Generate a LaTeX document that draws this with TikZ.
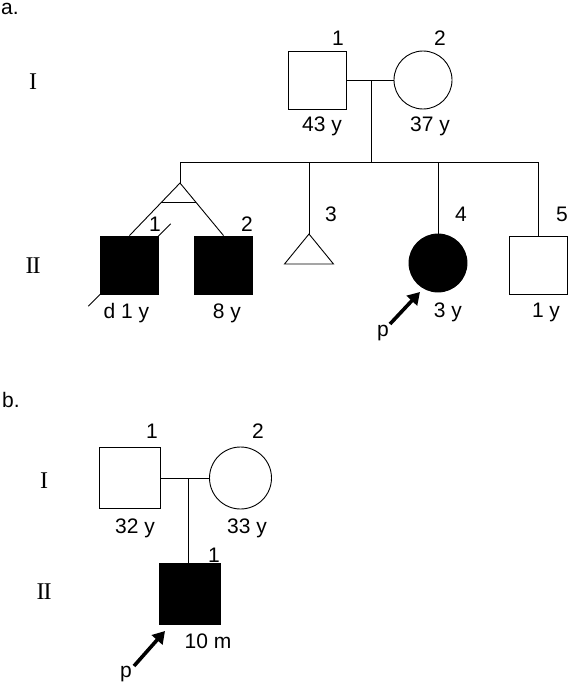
\documentclass[tikz,border=0pt]{standalone}
\usepackage{fontspec}
\setmainfont{Liberation Sans}
\newfontfamily\romanfont{Liberation Serif}
\usetikzlibrary{arrows.meta,calc}
\tikzset{
  pedline/.style={line width=0.9pt, black},
  male/.style={draw, line width=0.9pt, rectangle, minimum size=58pt, inner sep=0pt},
  female/.style={draw, line width=0.9pt, circle, minimum size=58pt, inner sep=0pt},
  affected/.style={fill=black},
  lbl/.style={font=\fontsize{21}{25}\selectfont, anchor=base, inner sep=0pt},
  gen/.style={font=\romanfont\fontsize{24}{28}\selectfont, anchor=base, inner sep=0pt},
  proband/.style={line width=3.6pt, -{Triangle[length=12pt,width=14pt]}},
}

\begin{document}
\begin{tikzpicture}[x=1pt, y=-1pt]
  \useasboundingbox (0,0) rectangle (569,685);

  % ---------------- a. ----------------
  \node[lbl, anchor=base west] (panelA) at (1,15) {a.};
  \node[gen] (genAI) at (33,89) {I};
  \node[gen] (genAII) at (33,273) {I\kern-1pt I};

  % Generation I
  \node[male] (fatherA) at (317.5,80) {};
  \node[female] (motherA) at (423,80) {};
  \node[lbl] at (338,46) {1};
  \node[lbl] at (440,46) {2};
  \node[lbl] at (322,131) {43 y};
  \node[lbl] at (430,131) {37 y};

  % Generation II
  \node[male, affected] (twinOne) at (129.5,265) {};
  \node[male, affected] (twinTwo) at (223.5,265) {};
  \coordinate (miscA) at (309,234);
  \node[female, affected] (daughterA) at (438,263) {};
  \node[male] (sonA) at (538,265) {};

  \node[lbl] at (155,231) {1};
  \node[lbl] at (247,231) {2};
  \node[lbl] at (331,221) {3};
  \node[lbl] at (461,221) {4};
  \node[lbl] at (562,221) {5};
  \node[lbl] at (126.5,318) {d 1 y};
  \node[lbl] at (227,318) {8 y};
  \node[lbl] at (448,317) {3 y};
  \node[lbl] at (546,317) {1 y};

  % Linien
  \coordinate (mateA) at (371,80);
  \coordinate (sibA) at (371,162);
  \coordinate (twinTop) at (180,162);
  \coordinate (twinApex) at (180,183);
  \coordinate (sonTop) at (538,162);
  \draw[pedline] (fatherA.east) -- (motherA.west);
  \draw[pedline] (mateA) -- (sibA);
  \draw[pedline] (twinTop) -- (sonTop);
  \draw[pedline] (twinTop) -- (twinApex);
  \draw[pedline] (twinOne.north) -- (twinApex) -- (twinTwo.north);
  \draw[pedline] ($(twinApex)!0.377!(twinOne.north)$) -- ($(twinApex)!0.377!(twinTwo.north)$);
  \draw[pedline] (twinTop -| miscA) -- (miscA);
  \draw[pedline] (miscA) -- ++(-24.5,30) -- ++(49,0) -- cycle;
  \draw[pedline] (twinTop -| daughterA) -- (daughterA.north);
  \draw[pedline] (sonTop) -- (sonA.north);
  \draw[pedline] ($(twinOne.south west)!-0.2!(twinOne.north east)$) -- ($(twinOne.north east)!-0.2!(twinOne.south west)$);

  % Proband
  \node[lbl] (probA) at (383,336) {p};
  \coordinate (probATail) at (390,324);
  \coordinate (probATip) at (420,292);
  \draw[proband] (probATail) -- (probATip);

  % ---------------- b. ----------------
  \node[lbl, anchor=base west] (panelB) at (2,407) {b.};
  \node[gen] (genBI) at (44,488) {I};
  \node[gen] (genBII) at (44,599) {I\kern-1pt I};

  \node[male, minimum size=61pt] (fatherB) at (130,478) {};
  \node[female, minimum size=62pt] (motherB) at (240.5,478) {};
  \node[male, affected, minimum size=61pt] (sonB) at (190,593.5) {};

  \node[lbl] at (152,438) {1};
  \node[lbl] at (258,438) {2};
  \node[lbl] at (135,533) {32 y};
  \node[lbl] at (247,533) {33 y};
  \node[lbl] at (214,562) {1};
  \node[lbl] at (208,648) {10 m};

  \coordinate (mateB) at (188,478);
  \draw[pedline] (fatherB.east) -- (motherB.west);
  \draw[pedline] (mateB) -- (mateB |- sonB.north);

  \node[lbl] (probB) at (126,677) {p};
  \coordinate (probBTail) at (134,666);
  \coordinate (probBTip) at (165,631);
  \draw[proband] (probBTail) -- (probBTip);
\end{tikzpicture}
\end{document}
